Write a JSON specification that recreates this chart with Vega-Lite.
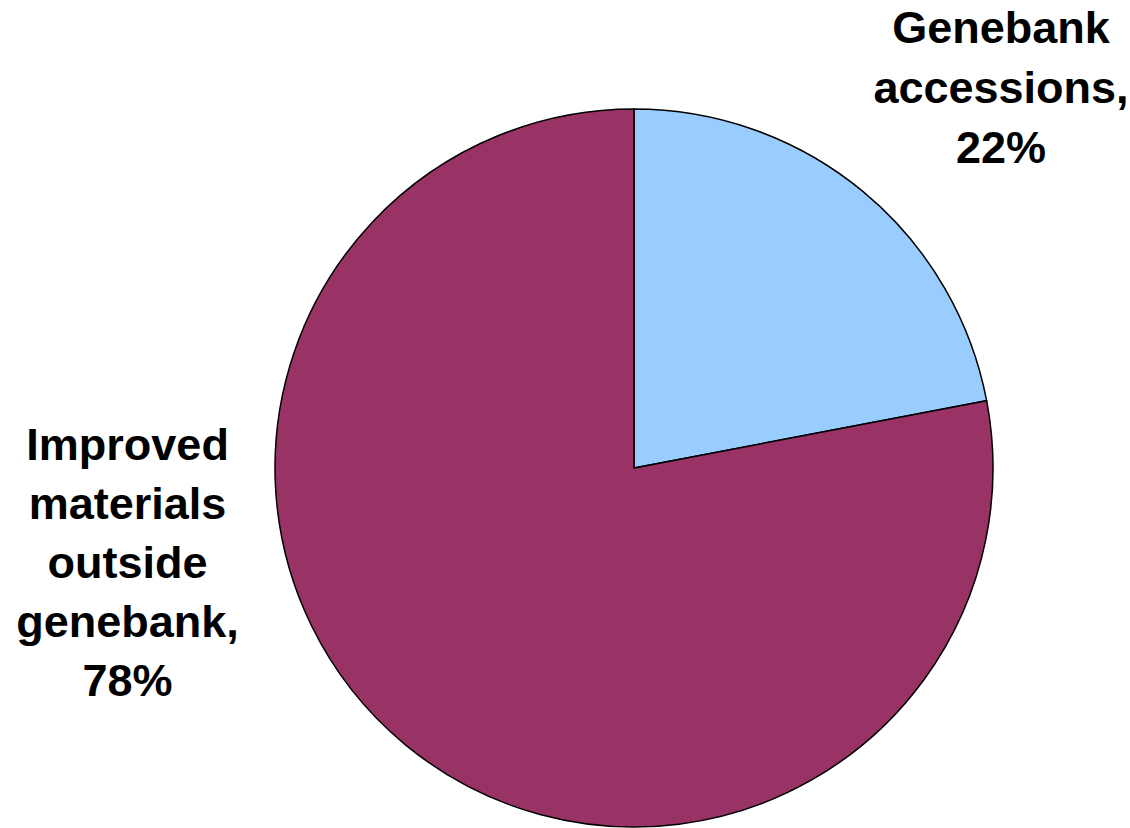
{
  "$schema": "https://vega.github.io/schema/vega-lite/v6.json",
  "autosize": {"type": "none"},
  "width": 718,
  "height": 718,
  "padding": {"left": 275, "top": 109, "right": 137, "bottom": 1},
  "background": "white",
  "config": {"view": {"stroke": null}},
  "data": {
    "values": [
      {"category": "Genebank accessions", "share": 22, "label": "Genebank\naccessions,\n22%"},
      {"category": "Improved materials outside genebank", "share": 78, "label": "Improved\nmaterials\noutside\ngenebank,\n78%"}
    ]
  },
  "encoding": {
    "theta": {"field": "share", "type": "quantitative", "stack": true},
    "order": {"field": "category", "type": "nominal"}
  },
  "layer": [
    {
      "mark": {"type": "arc", "stroke": "black", "strokeWidth": 1.5},
      "encoding": {
        "color": {
          "field": "category",
          "type": "nominal",
          "scale": {"domain": ["Genebank accessions", "Improved materials outside genebank"], "range": ["#99CCFF", "#993366"]},
          "legend": null
        }
      }
    },
    {
      "mark": {"type": "text", "radius": 571, "dx": 3, "dy": 1, "lineBreak": "\n", "lineHeight": 60, "font": "Liberation Sans", "fontWeight": "bold", "fontSize": 45, "align": "center", "baseline": "middle", "color": "black"},
      "encoding": {"text": {"condition": {"test": "datum.share == 22", "field": "label"}, "value": ""}}
    },
    {
      "mark": {"type": "text", "radius": 305, "dx": -312, "dy": -257, "lineBreak": "\n", "lineHeight": 59, "font": "Liberation Sans", "fontWeight": "bold", "fontSize": 45, "align": "center", "baseline": "middle", "color": "black"},
      "encoding": {"text": {"condition": {"test": "datum.share == 78", "field": "label"}, "value": ""}}
    }
  ]
}
